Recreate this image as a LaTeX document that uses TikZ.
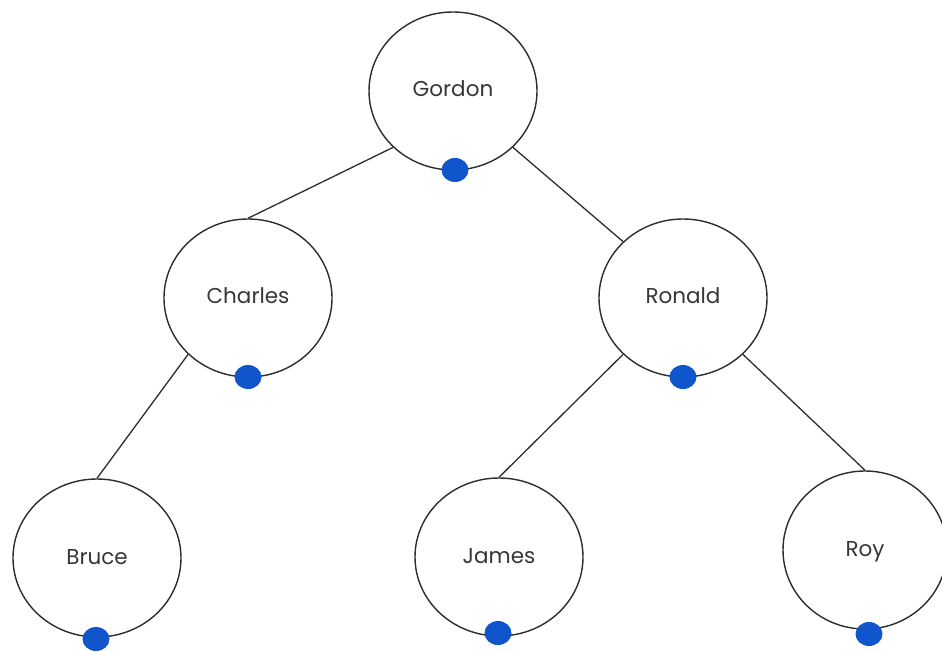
\documentclass[tikz,border=0pt]{standalone}
\usepackage{fontspec}
\setmainfont{Poppins}
\usetikzlibrary{shapes.geometric}
\definecolor{linegray}{RGB}{45,45,45}
\definecolor{textgray}{RGB}{55,55,55}
\definecolor{dotblue}{RGB}{17,85,204}
\begin{document}
\begin{tikzpicture}[x=1pt,y=-1pt,
  person/.style={ellipse, draw=linegray, line width=1.4pt, fill=white,
    minimum width=168pt, minimum height=158pt, inner sep=0pt,
    text height=1.2em, text depth=0em,
    font=\fontsize{21.5}{24}\selectfont, text=textgray},
  tie/.style={draw=linegray, line width=1.3pt},
  dot/.style={ellipse, fill=dotblue, minimum width=27pt, minimum height=24pt, inner sep=0pt}]
\useasboundingbox (0,0) rectangle (942,652);

% family tree members
\node[person] (gordon)  at (453,91)  {Gordon};
\node[person] (charles) at (248,298) {Charles};
\node[person] (ronald)  at (683,298) {Ronald};
\node[person] (bruce)   at (97,558)  {Bruce};
\node[person] (james)   at (499,557) {James};
\node[person, minimum width=164pt] (roy) at (865,550) {Roy};

% links from parent to child
\draw[tie] (gordon.south west)  -- (charles.north);
\draw[tie] (gordon.south east)  -- (ronald.north west);
\draw[tie] (charles.south west) -- (bruce.north);
\draw[tie] (ronald.south west)  -- (james.north);
\draw[tie] (ronald.south east)  -- (roy.north);

% handles on each circle
\node[dot] (gordon-h)  at (455,170) {};
\node[dot] (charles-h) at (248,377) {};
\node[dot] (ronald-h)  at (683,377) {};
\node[dot] (bruce-h)   at (96,639)  {};
\node[dot] (james-h)   at (498,633) {};
\node[dot] (roy-h)     at (869,634) {};
\end{tikzpicture}
\end{document}
